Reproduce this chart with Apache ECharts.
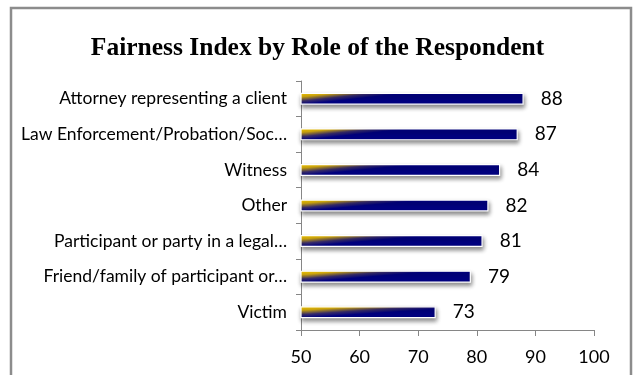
<!DOCTYPE html>
<html>
<head>
<meta charset="utf-8">
<script src="https://cdn.jsdelivr.net/npm/echarts@6/dist/echarts.min.js"></script>
<style>
  html, body { margin: 0; padding: 0; background: #fff; }
  #chart { width: 635px; height: 375px; }
</style>
</head>
<body>
<div id="chart"></div>
<script>
// Roles, listed top to bottom
const roles = [
  'Attorney representing a client',
  'Law Enforcement/Probation/Soc\u2026',
  'Witness',
  'Other',
  'Participant or party in a legal\u2026',
  'Friend/family of participant or\u2026',
  'Victim'
];
// Fairness index per role
const fairness = [88, 87, 84, 82, 81, 79, 73];
// Value axis ticks
const axisMin = 50;
const axisMax = 100;
const axisStep = 10;

const labelFont = 'Lato, "Open Sans", sans-serif';

// Gold-to-navy fill, slanted so the gold sits in the upper-left corner
const barFill = new echarts.graphic.LinearGradient(0, 0, 0.006, 1, [
  { offset: 0, color: '#FFD200' },
  { offset: 0.35, color: '#DDB20E' },
  { offset: 0.7, color: '#3A2E6C' },
  { offset: 1, color: '#000080' }
]);

const chart = echarts.init(document.getElementById('chart'), null, { renderer: 'canvas' });

chart.setOption({
  animation: false,
  backgroundColor: '#ffffff',
  title: {
    text: 'Fairness Index by Role of the Respondent',
    left: 'center',
    top: 30,
    textStyle: {
      fontFamily: '"Liberation Serif", serif',
      fontWeight: 'bold',
      fontSize: 25.5,
      color: '#000'
    }
  },
  graphic: [{
    type: 'rect',
    shape: { x: 11, y: 8, width: 620, height: 420 },
    style: { fill: 'none', stroke: '#8c8c8c', lineWidth: 2.5 },
    silent: true
  }],
  grid: { left: 301, right: 41, top: 81, bottom: 45 },
  xAxis: {
    type: 'value',
    min: axisMin,
    max: axisMax,
    interval: axisStep,
    splitLine: { show: false },
    axisLine: { show: true, lineStyle: { color: '#868686', width: 1 } },
    axisTick: { show: true, length: 6, lineStyle: { color: '#868686' } },
    axisLabel: {
      margin: 18,
      fontFamily: labelFont,
      fontSize: 18,
      color: '#000'
    }
  },
  yAxis: {
    type: 'category',
    data: roles,
    inverse: true,
    axisLine: { show: true, lineStyle: { color: '#868686', width: 1 } },
    axisTick: { show: true, length: 5, lineStyle: { color: '#868686' } },
    axisLabel: {
      margin: 14,
      fontFamily: labelFont,
      fontSize: 17.5,
      color: '#000'
    }
  },
  series: [{
    type: 'bar',
    data: fairness,
    barWidth: 12,
    itemStyle: {
      color: barFill,
      borderColor: '#ffffff',
      borderWidth: 1.2,
      shadowColor: 'rgba(0,0,0,0.45)',
      shadowBlur: 4,
      shadowOffsetX: 1,
      shadowOffsetY: 3
    },
    label: {
      show: true,
      position: 'right',
      distance: 17,
      fontFamily: labelFont,
      fontSize: 19,
      color: '#000'
    }
  }]
});
</script>
</body>
</html>
